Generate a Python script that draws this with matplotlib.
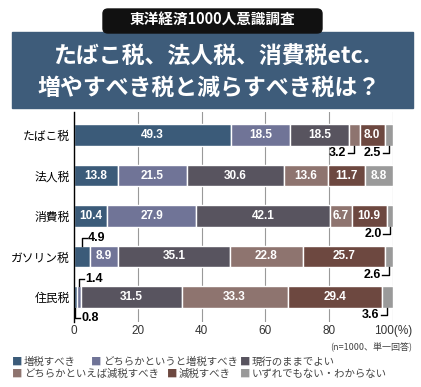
import matplotlib.pyplot as plt
import numpy as np
from matplotlib.patches import Rectangle, FancyBboxPatch

plt.rcParams["font.family"] = ["Noto Sans CJK JP", "DejaVu Sans"]

# データ
taxes = ["たばこ税", "法人税", "消費税", "ガソリン税", "住民税"]
answers = ["増税すべき", "どちらかというと増税すべき", "現行のままでよい",
           "どちらかといえば減税すべき", "減税すべき", "いずれでもない・わからない"]
zouzei = [49.3, 13.8, 10.4, 4.9, 0.8]
yaya_zouzei = [18.5, 21.5, 27.9, 8.9, 1.4]
genkou = [18.5, 30.6, 42.1, 35.1, 31.5]
yaya_genzei = [3.2, 13.6, 6.7, 22.8, 33.3]
genzei = [8.0, 11.7, 10.9, 25.7, 29.4]
wakaranai = [2.5, 8.8, 2.0, 2.6, 3.6]
xticks = [0, 20, 40, 60, 80, 100]
xticklabels = ["0", "20", "40", "60", "80", "100(%)"]

colors = ["#3b5b79", "#707497", "#58545f", "#8e746f", "#6d4840", "#9a9a9a"]
numfont = ["Liberation Sans", "DejaVu Sans"]

data = np.array([zouzei, yaya_zouzei, genkou, yaya_genzei, genzei, wakaranai]).T

# 外に出すラベル (行, 区分, 位置)
outside = [(0, 3, "below"), (0, 5, "below"), (2, 5, "below"),
           (3, 0, "above"), (3, 5, "below"),
           (4, 0, "below_r"), (4, 1, "above"), (4, 5, "below")]
outside_keys = {(r, s) for r, s, _ in outside}

fig = plt.figure(figsize=(4.21, 3.87), dpi=100)
W, H = 421, 387

# タイトル部分
fig.patches.append(Rectangle((12 / W, 1 - 108 / H), 401 / W, 76 / H,
                             transform=fig.transFigure, color="#3e5c7a", zorder=1))
fig.patches.append(FancyBboxPatch((103 / W, 1 - 33 / H), 219 / W, 24 / H,
                                  boxstyle="round,pad=0,rounding_size=0.012",
                                  transform=fig.transFigure, color="#111111", zorder=2))
fig.text(212 / W, 1 - 19 / H, "東洋経済1000人意識調査", color="white", fontsize=10.5,
         fontweight="bold", ha="center", va="center", zorder=3)
fig.text(213 / W, 1 - 57 / H, "たばこ税、法人税、消費税etc.", color="white", fontsize=16.5,
         fontweight="bold", ha="center", va="center", zorder=3)
fig.text(209 / W, 1 - 88 / H, "増やすべき税と減らすべき税は？", color="white", fontsize=16.5,
         fontweight="bold", ha="center", va="center", zorder=3)

ax = fig.add_axes([74 / W, 1 - 322 / H, 319 / W, 210 / H])
y = np.arange(len(taxes))
left = np.zeros(len(taxes))
for j in range(data.shape[1]):
    ax.barh(y, data[:, j], left=left, height=0.54, color=colors[j],
            edgecolor="white", linewidth=1.0, zorder=3)
    for i in range(len(taxes)):
        v = data[i, j]
        if (i, j) not in outside_keys:
            ax.text(left[i] + v / 2, i, f"{v:.1f}", color="white", fontsize=8.5,
                    fontweight="bold", ha="center", va="center", zorder=4,
                    family=numfont)
    left += data[:, j]

# 外側ラベルと引き出し線
cum = np.cumsum(data, axis=1)
for r, s, side in outside:
    v = data[r, s]
    xc = cum[r, s] - v / 2
    if side == "below":
        y0, y1 = r + 0.27, r + 0.45
        ax.plot([xc, xc, xc - 2.0], [y0, y1, y1], color="black", lw=1.0,
                zorder=5, clip_on=False)
        ax.text(xc - 2.6, y1, f"{v:.1f}", fontsize=9, fontweight="bold",
                ha="right", va="center", family=numfont)
    elif side == "below_r":
        y0, y1 = r + 0.27, r + 0.52
        ax.plot([xc, xc, xc + 1.6], [y0, y1, y1], color="black", lw=1.0,
                zorder=5, clip_on=False)
        ax.text(xc + 2.0, y1, f"{v:.1f}", fontsize=9, fontweight="bold",
                ha="left", va="center", family=numfont)
    else:
        y0, y1 = r - 0.27, r - 0.45
        ax.plot([xc, xc, xc + 1.6], [y0, y1, y1], color="black", lw=1.0,
                zorder=5, clip_on=False)
        ax.text(xc + 2.0, y1, f"{v:.1f}", fontsize=9, fontweight="bold",
                ha="left", va="center", family=numfont)

ax.set_xlim(0, 100)
ax.set_ylim(4.62, -0.57)
ax.set_yticks(y)
ax.set_yticklabels(taxes, fontsize=8.5)
ax.set_xticks(xticks)
ax.set_xticklabels(xticklabels, fontsize=8.5, color="#333333", family=numfont)
ax.tick_params(length=0, pad=3)
ax.tick_params(axis="x", pad=2)
ax.grid(axis="x", color="#999999", lw=0.8, zorder=0)
for sp in ["top", "right", "bottom"]:
    ax.spines[sp].set_visible(False)
ax.spines["left"].set_color("black")
ax.spines["left"].set_linewidth(1.0)
ax.spines["left"].set_zorder(6)

fig.text(412 / W, 1 - 347 / H, "(n=1000、単一回答)", fontsize=6.5, color="#444444",
         ha="right", va="center")

# 凡例
legend_pos = [(12, 362), (91, 362), (240, 362), (12, 374), (167, 374), (240, 374)]
for (lx, ly), lab, c in zip(legend_pos, answers, colors):
    fig.text(lx / W, 1 - ly / H, "■", color=c, fontsize=7.5, ha="left", va="center")
    fig.text((lx + 12) / W, 1 - ly / H, lab, color="#444444", fontsize=7.5,
             ha="left", va="center")

plt.savefig("out.png", dpi=100)
